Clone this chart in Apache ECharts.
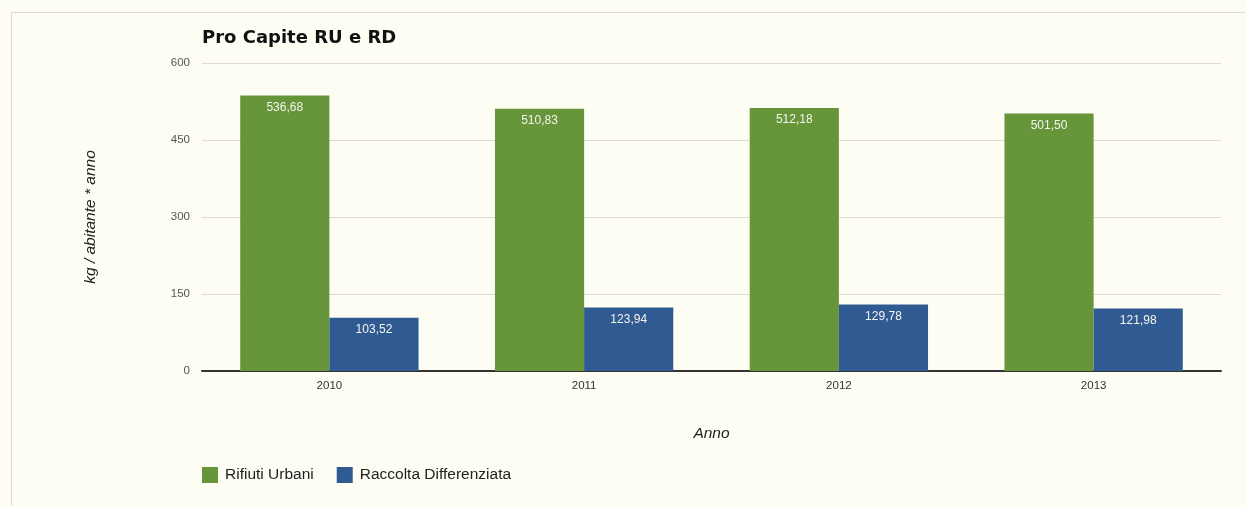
<!DOCTYPE html>
<html>
<head>
<meta charset="utf-8">
<script src="https://cdn.jsdelivr.net/npm/echarts@6/dist/echarts.min.js"></script>
<style>
  html, body { margin: 0; padding: 0; background: #fefdf4; }
  #frame { position: absolute; left: 11px; top: 12px; width: 1250px; height: 520px; border: 1px solid #dcd9d2; box-sizing: border-box; }
  #chart { position: absolute; left: 0; top: 0; width: 1246px; height: 506px; }
</style>
</head>
<body>
<div id="frame"></div>
<div id="chart"></div>
<script>
// Per-capita municipal waste (RU) and separate collection (RD), kg per inhabitant per year
const years = ['2010', '2011', '2012', '2013'];
const rifiutiUrbani = [536.68, 510.83, 512.18, 501.50];
const raccoltaDifferenziata = [103.52, 123.94, 129.78, 121.98];
const yTicks = [0, 150, 300, 450, 600];

const fmt = v => v.toFixed(2).replace('.', ',');
const sans = '"Liberation Sans", Arial, sans-serif';

const chart = echarts.init(document.getElementById('chart'));
const labelStyle = {
  show: true,
  position: 'insideTop',
  distance: 6,
  color: '#f4f4ee',
  fontFamily: sans,
  fontSize: 12,
  formatter: p => fmt(p.value)
};

chart.setOption({
  backgroundColor: 'transparent',
  animation: false,
  title: {
    text: 'Pro Capite RU e RD',
    left: 202,
    top: 29,
    padding: 0,
    textStyle: { fontFamily: '"DejaVu Sans", Verdana, sans-serif', fontWeight: 'bold', fontSize: 18, color: '#111' }
  },
  legend: {
    left: 202,
    top: 467,
    padding: 0,
    itemWidth: 16,
    itemHeight: 16,
    itemGap: 23,
    icon: 'rect',
    textStyle: { fontFamily: sans, fontSize: 15.5, color: '#222', padding: [0, 0, 0, 2] },
    data: ['Rifiuti Urbani', 'Raccolta Differenziata']
  },
  grid: { left: 202, right: 25, top: 63, bottom: 135, containLabel: false },
  xAxis: {
    type: 'category',
    data: years,
    name: 'Anno',
    nameLocation: 'middle',
    nameGap: 55,
    nameTextStyle: { fontFamily: sans, fontStyle: 'italic', fontSize: 15.5, color: '#222' },
    axisLine: { lineStyle: { color: '#333', width: 2 } },
    axisTick: { show: false },
    axisLabel: { margin: 9, fontFamily: sans, fontSize: 11.5, color: '#333' }
  },
  yAxis: {
    type: 'value',
    min: yTicks[0],
    max: yTicks[yTicks.length - 1],
    interval: yTicks[1] - yTicks[0],
    name: 'kg / abitante * anno',
    nameLocation: 'middle',
    nameGap: 103,
    nameRotate: 90,
    nameTextStyle: { fontFamily: sans, fontStyle: 'italic', fontSize: 15.5, color: '#222' },
    axisLine: { show: false },
    axisTick: { show: false },
    axisLabel: { margin: 12, fontFamily: sans, fontSize: 11.5, color: '#555' },
    splitLine: { lineStyle: { color: '#dedad2', width: 1 } }
  },
  series: [
    {
      name: 'Rifiuti Urbani',
      type: 'bar',
      data: rifiutiUrbani,
      barGap: '0%',
      barCategoryGap: '30%',
      itemStyle: { color: '#67963a' },
      label: labelStyle
    },
    {
      name: 'Raccolta Differenziata',
      type: 'bar',
      data: raccoltaDifferenziata,
      itemStyle: { color: '#305a92' },
      label: labelStyle
    }
  ]
});
</script>
</body>
</html>
